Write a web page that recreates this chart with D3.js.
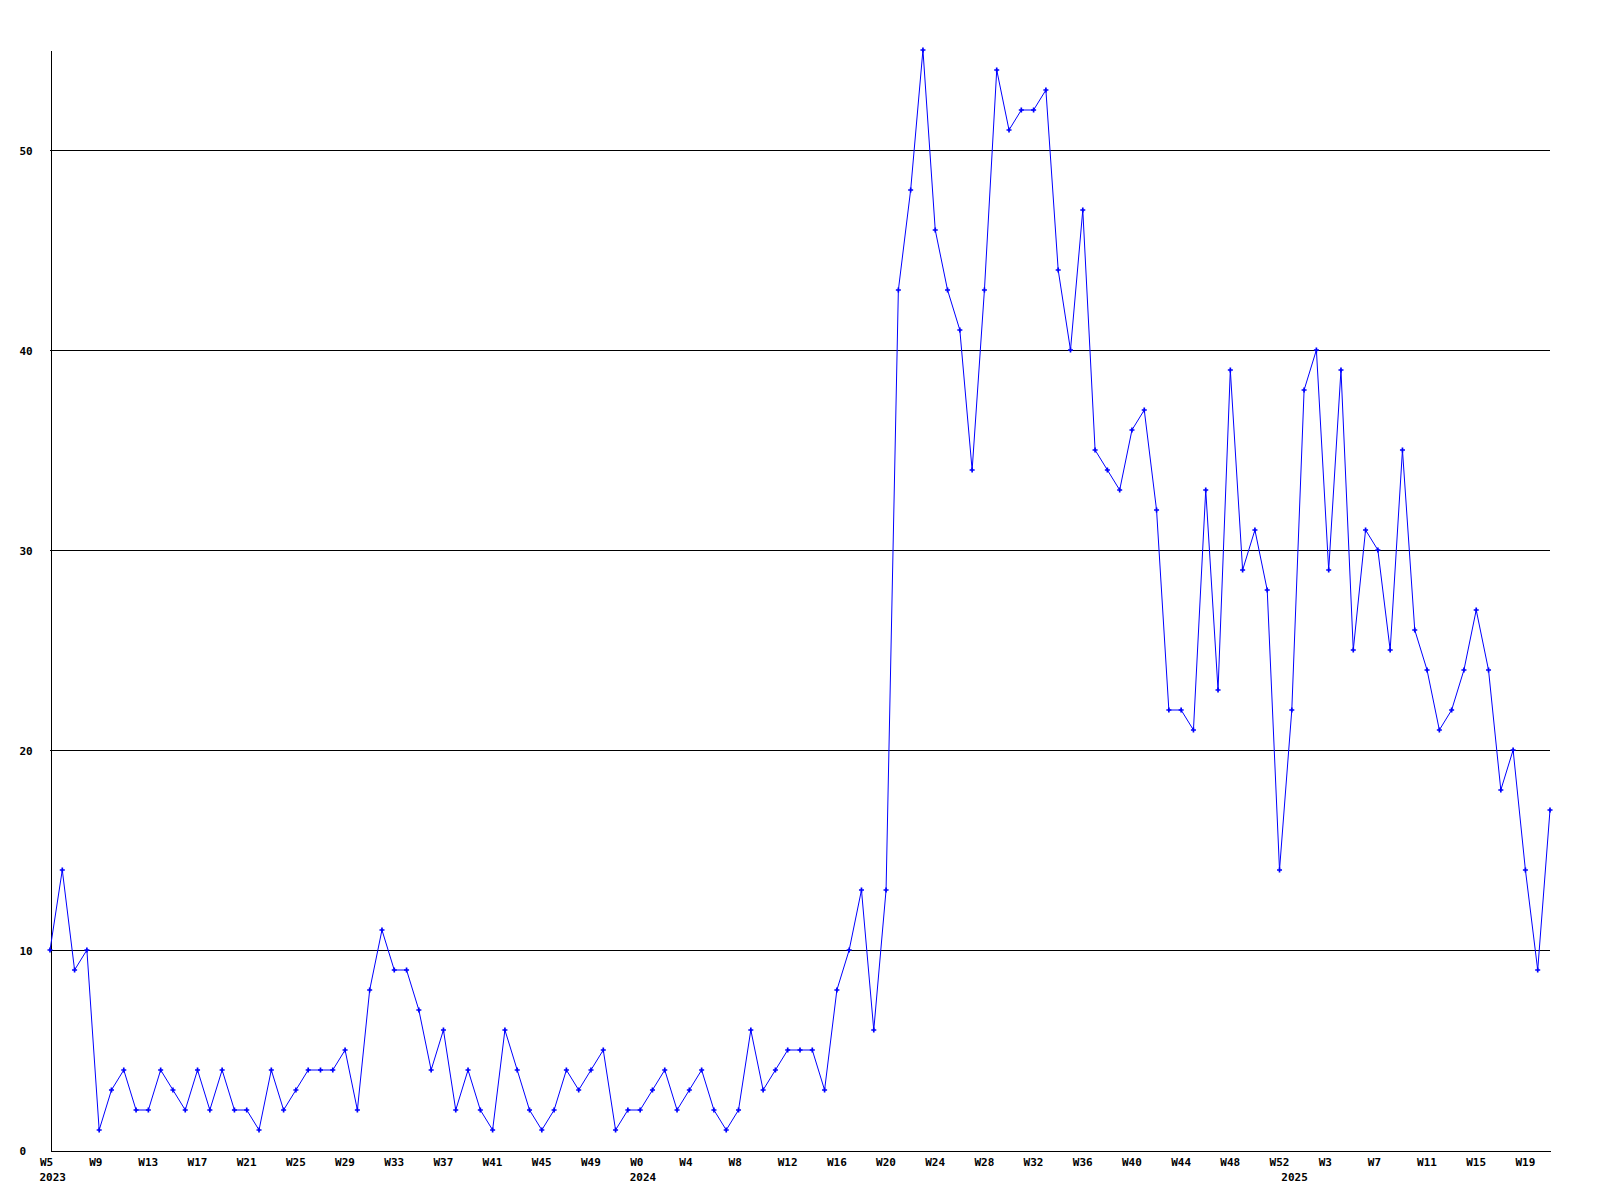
<!DOCTYPE html>
<html>
<head>
<meta charset="utf-8">
<script src="https://cdn.jsdelivr.net/npm/d3@7"></script>
<style>
  html, body { margin: 0; padding: 0; background: #ffffff; }
  svg { display: block; }
  text { font-family: "DejaVu Sans Mono", "Liberation Mono", monospace; font-weight: bold; font-size: 11px; fill: #000; }
</style>
</head>
<body>
<svg id="chart" width="1600" height="1200"></svg>
<script>
// ---- Data ----
const years = ["2023", "2024", "2025"];
const firstWeeks = [5, 0, 0];
const values2023 = [10,14,9,10,1,3,4,2,2,4,3,2,4,2,4,2,2,1,4,2,3,4,4,4,5,2,8,11,9,9,7,4,6,2,4,2,1,6,4,2,1,2,4,3,4,5,1,2];
const values2024 = [2,3,4,2,3,4,2,1,2,6,3,4,5,5,5,3,8,10,13,6,13,43,48,55,46,43,41,34,43,54,51,52,52,53,44,40,47,35,34,33,36,37,32,22,22,21,33,23,39,29,31,28,14];
const values2025 = [22,38,40,29,39,25,31,30,25,35,26,24,21,22,24,27,24,18,20,14,9,17];
const tickLabels = ["W5","W9","W13","W17","W21","W25","W29","W33","W37","W41","W45","W49",
                    "W0","W4","W8","W12","W16","W20","W24","W28","W32","W36","W40","W44","W48","W52",
                    "W3","W7","W11","W15","W19"];
const tickYears = ["2023","2023","2023","2023","2023","2023","2023","2023","2023","2023","2023","2023",
                   "2024","2024","2024","2024","2024","2024","2024","2024","2024","2024","2024","2024","2024","2024",
                   "2025","2025","2025","2025","2025"];
const yearLabelWeeks = ["2023-W5", "2024-W0", "2025-W0"];
const yTicks = [0, 10, 20, 30, 40, 50];

// ---- Build table ----
const seriesByYear = [values2023, values2024, values2025];
const data = [];
years.forEach((yr, i) => {
  seriesByYear[i].forEach((v, j) => {
    data.push({ key: yr + "-W" + (firstWeeks[i] + j), year: yr, week: "W" + (firstWeeks[i] + j), value: v });
  });
});
const tickKeys = tickLabels.map((w, i) => tickYears[i] + "-" + w);

// ---- Layout ----
const mLeft = 50, mRight = 1550, mTop = 50, mBottom = 1150;
const svg = d3.select("#chart");

const x = d3.scalePoint().domain(data.map(d => d.key)).range([mLeft, mRight]);
const y = d3.scaleLinear().domain([0, 55]).range([mBottom, mTop]);

// gridlines
svg.append("g")
  .selectAll("line")
  .data(yTicks.filter(t => t > 0))
  .join("line")
  .attr("x1", mLeft).attr("x2", mRight)
  .attr("y1", d => Math.round(y(d)) + 0.5).attr("y2", d => Math.round(y(d)) + 0.5)
  .attr("stroke", "#000").attr("stroke-width", 1)
  .attr("shape-rendering", "crispEdges");

// x axis
const labelMap = new Map(tickKeys.map((k, i) => [k, tickLabels[i]]));
const xAxis = svg.append("g")
  .attr("transform", `translate(0.5,${mBottom + 0.5})`)
  .call(d3.axisBottom(x).tickValues(tickKeys).tickFormat(k => labelMap.get(k)).tickSize(0).tickSizeOuter(0));
xAxis.select(".domain").attr("stroke", "#000").attr("shape-rendering", "crispEdges");
xAxis.selectAll(".tick text")
  .attr("text-anchor", "start")
  .attr("dx", -11)
  .attr("y", 0)
  .attr("dy", 15)
  .style("font-family", "'DejaVu Sans Mono', monospace")
  .style("font-size", "11px")
  .style("font-weight", "bold");

// year labels
svg.append("g")
  .selectAll("text")
  .data(yearLabelWeeks)
  .join("text")
  .attr("x", d => x(d) - 10.5)
  .attr("y", mBottom + 31)
  .attr("text-anchor", "start")
  .text(d => d.split("-")[0]);

// y axis
const yAxis = svg.append("g")
  .attr("transform", `translate(${mLeft + 0.5},0.5)`)
  .call(d3.axisLeft(y).tickValues(yTicks).tickFormat(d3.format("d")).tickSize(0).tickSizeOuter(0));
yAxis.select(".domain").attr("stroke", "#000").attr("shape-rendering", "crispEdges");
yAxis.selectAll(".tick text")
  .attr("text-anchor", "start")
  .attr("x", 19 - mLeft)
  .attr("dy", "0.35em")
  .style("font-family", "'DejaVu Sans Mono', monospace")
  .style("font-size", "11px")
  .style("font-weight", "bold");

// line
const line = d3.line().x(d => x(d.key)).y(d => y(d.value));
svg.append("path")
  .datum(data)
  .attr("d", line)
  .attr("fill", "none")
  .attr("stroke", "#0000ff")
  .attr("stroke-width", 1);

// markers
const sym = d3.symbol().type(d3.symbolCross).size(14);
svg.append("g")
  .selectAll("path")
  .data(data)
  .join("path")
  .attr("transform", d => `translate(${x(d.key)},${y(d.value)})`)
  .attr("d", sym)
  .attr("fill", "#0000ff");
</script>
</body>
</html>
